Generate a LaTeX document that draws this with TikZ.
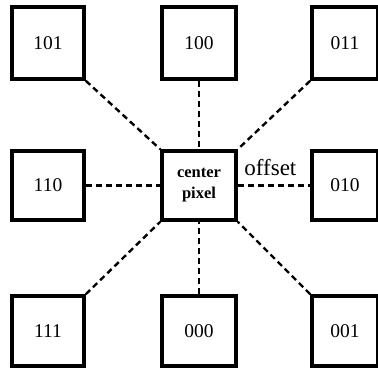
\documentclass[tikz,border=0pt]{standalone}
\usepackage{fontspec}
\setmainfont{Liberation Serif}
\begin{document}
\begin{tikzpicture}[x=1pt,y=-1pt,
  pixbox/.style={draw=black, line width=3.6pt, rectangle, inner sep=0pt, fill=white,
    font=\fontsize{19.5}{21}\selectfont},
  link/.style={draw=black, line width=2.4pt, dash pattern=on 6pt off 4pt}]
\useasboundingbox (0,0) rectangle (378,368);
\fill[white] (0,0) rectangle (378,368);
% top row
\node[pixbox, minimum width=72pt, minimum height=72pt] (n101) at (48,43) {101};
\node[pixbox, minimum width=74pt, minimum height=72pt] (n100) at (199,43) {100};
\node[pixbox, minimum width=66pt, minimum height=72pt] (n011) at (345,43) {011};
% middle row
\node[pixbox, minimum width=72pt, minimum height=69pt] (n110) at (48,185.5) {110};
\node[pixbox, minimum width=74pt, minimum height=69pt, align=center,
  font=\fontsize{16.5}{21}\selectfont\bfseries] (c) at (199,185.5) {center\\pixel};
\node[pixbox, minimum width=66pt, minimum height=69pt] (n010) at (345,185.5) {010};
% bottom row
\node[pixbox, minimum width=72pt, minimum height=70pt] (n111) at (48,331) {111};
\node[pixbox, minimum width=74pt, minimum height=70pt] (n000) at (199,331) {000};
\node[pixbox, minimum width=66pt, minimum height=70pt] (n001) at (345,331) {001};
% connectors
\draw[link] (n101.south east) -- (c.north west);
\draw[link] (n100.south) -- (c.north);
\draw[link] (n011.south west) -- (c.north east);
\draw[link] (n110.east) -- (c.west);
\draw[link] (c.east) -- (n010.west) node[pos=0.45, above=5pt, font=\fontsize{23}{25}\selectfont] (off) {offset};
\draw[link] (n111.north east) -- (c.south west);
\draw[link] (n000.north) -- (c.south);
\draw[link] (n001.north west) -- (c.south east);
\end{tikzpicture}
\end{document}
